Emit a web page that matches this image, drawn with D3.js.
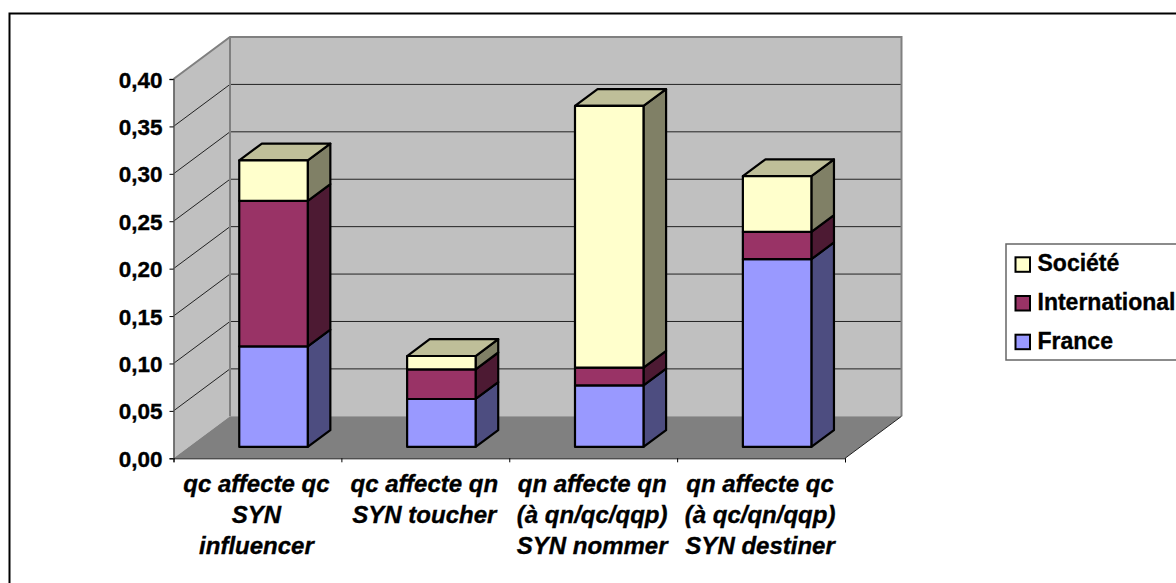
<!DOCTYPE html>
<html>
<head>
<meta charset="utf-8">
<title>affecter</title>
<script src="https://cdn.jsdelivr.net/npm/d3@7"></script>
<style>
    html, body { margin: 0; padding: 0; background: #fff; overflow: hidden; }
    svg { display: block; }
    text { font-family: "Liberation Sans", Arial, sans-serif; font-weight: bold; fill: #000; stroke: #000; stroke-width: 0.35px; }
</style>
</head>
<body>
<div id="chart"></div>
<script>
// values
var categories = ["c1", "c2", "c3", "c4"];
var categoryLines = [
    ["qc affecte qc", "SYN", "influencer"],
    ["qc affecte qn", "SYN toucher"],
    ["qn affecte qn", "(à qn/qc/qqp)", "SYN nommer"],
    ["qn affecte qc", "(à qc/qn/qqp)", "SYN destiner"]
];
var france = [0.106, 0.0506, 0.065, 0.198];
var international = [0.1535, 0.0313, 0.0186, 0.0288];
var societe = [0.0427, 0.014, 0.276, 0.0588];
var yTicks = [0, 0.05, 0.10, 0.15, 0.20, 0.25, 0.30, 0.35, 0.40];
var seriesNames = ["France", "International", "Société"];
var seriesColors = ["#9999ff", "#993366", "#ffffcc"];
var sideColors = ["#4d4d80", "#4d1a33", "#808066"];
var topColor = "#bfbf99";

window.onload = function () {

    var width = 1176,
        height = 583,
        plot = {left: 173.5, right: 845, bottom: 458.3, top: 79},
        depthX = 56.5,
        depthY = 42,
        barFront = 0.27,
        barBack = 0.67;

    var svg = d3.select("#chart")
                .append("svg")
                .attr("width", width)
                .attr("height", height);

    // bars sit a pixel to the right of the plain band position
    var xScale = d3.scaleBand()
                    .domain(categories)
                    .range([plot.left + 0.8, plot.right + 0.8])
                    .paddingInner(0.592)
                    .paddingOuter(0.296);

    var xEdges = d3.scaleLinear()
                    .domain([0, categories.length])
                    .range([plot.left, plot.right]);

    var yScale = d3.scaleLinear()
                    .domain([0, 0.40])
                    .range([plot.bottom, plot.top]);

    // oblique projection: z 0 = front plane, z 1 = back wall
    var project = function (x, v, z) {
        return [x + z * depthX, yScale(v) - z * depthY];
    };

    var poly = function (pts) {
        return pts.map(function (p) { return p.join(","); }).join(" ");
    };

    var comma = d3.formatLocale({decimal: ",", thousands: " ", grouping: [3], currency: ["", ""]}).format(".2f");

    // outer frame, runs off the page on the right and the bottom
    svg.append("rect")
        .attr("x", 9.5)
        .attr("y", 13.5)
        .attr("width", width + 20)
        .attr("height", height + 20)
        .attr("fill", "#fff")
        .attr("stroke", "#000")
        .attr("stroke-width", 2);

    // ---- WALLS AND FLOOR -----

    var yMax = 0.40;

    svg.append("polygon")
        .attr("points", poly([project(plot.left, 0, 0), project(plot.left, yMax, 0), project(plot.left, yMax, 1), project(plot.left, 0, 1)]))
        .attr("fill", "#c0c0c0");

    svg.append("polygon")
        .attr("points", poly([project(plot.left, 0, 1), project(plot.left, yMax, 1), project(plot.right, yMax, 1), project(plot.right, 0, 1)]))
        .attr("fill", "#c0c0c0");

    svg.append("polygon")
        .attr("points", poly([project(plot.left, 0, 0), project(plot.left, 0, 1), project(plot.right, 0, 1), project(plot.right, 0, 0)]))
        .attr("fill", "#808080");

    // grid lines on both walls
    var gridTicks = yTicks.filter(function (v) { return v > 0 && v < yMax; });

    svg.append("g")
        .selectAll("polyline")
        .data(gridTicks)
        .enter()
        .append("polyline")
            .attr("points", function (v) {
                return poly([project(plot.left, v, 0), project(plot.left, v, 1), project(plot.right, v, 1)]);
            })
            .attr("fill", "none")
            .attr("stroke", "#222")
            .attr("stroke-width", 1);

    // grey edges of the walls
    svg.append("polyline")
        .attr("points", poly([project(plot.left, yMax, 0), project(plot.left, yMax, 1), project(plot.right, yMax, 1), project(plot.right, 0, 1)]))
        .attr("fill", "none")
        .attr("stroke", "#808080")
        .attr("stroke-width", 2);

    svg.append("line")
        .attr("x1", project(plot.left, yMax, 1)[0])
        .attr("y1", project(plot.left, yMax, 1)[1])
        .attr("x2", project(plot.left, 0, 1)[0])
        .attr("y2", project(plot.left, 0, 1)[1])
        .attr("stroke", "#808080")
        .attr("stroke-width", 2);

    svg.append("line")
        .attr("x1", project(plot.right, 0, 0)[0])
        .attr("y1", project(plot.right, 0, 0)[1])
        .attr("x2", project(plot.right, 0, 1)[0])
        .attr("y2", project(plot.right, 0, 1)[1])
        .attr("stroke", "#222")
        .attr("stroke-width", 1);

    // ---- STACKED BARS -----

    var stack = [france, international, societe];
    var stackKeys = seriesNames;

    var rows = categories.map(function (c, i) {
        var row = {cat: c};
        stackKeys.forEach(function (k, s) { row[k] = stack[s][i]; });
        return row;
    });

    var layers = d3.stack().keys(stackKeys)(rows);

    layers.forEach(function (layer, s) {
        var g = svg.append("g");
        var isTop = s === layers.length - 1;

        layer.forEach(function (d, i) {
            var x0 = xScale(categories[i]),
                x1 = x0 + xScale.bandwidth();

            // right side
            g.append("polygon")
                .attr("points", poly([project(x1, d[0], barFront), project(x1, d[1], barFront), project(x1, d[1], barBack), project(x1, d[0], barBack)]))
                .attr("fill", sideColors[s])
                .attr("stroke", "#000")
                .attr("stroke-width", 2.2)
                .attr("stroke-linejoin", "round");

            if (isTop) {
                g.append("polygon")
                    .attr("points", poly([project(x0, d[1], barFront), project(x0, d[1], barBack), project(x1, d[1], barBack), project(x1, d[1], barFront)]))
                    .attr("fill", topColor)
                    .attr("stroke", "#000")
                    .attr("stroke-width", 2.2)
                    .attr("stroke-linejoin", "round");
            }

            // front
            g.append("polygon")
                .attr("points", poly([project(x0, d[0], barFront), project(x0, d[1], barFront), project(x1, d[1], barFront), project(x1, d[0], barFront)]))
                .attr("fill", seriesColors[s])
                .attr("stroke", "#000")
                .attr("stroke-width", 2.2)
                .attr("stroke-linejoin", "round");
        });
    });

    // ---- AXES -----

    var yAxis = d3.axisLeft()
                    .scale(yScale)
                    .tickValues(yTicks)
                    .tickSize(4)
                    .tickPadding(7)
                    .tickFormat(comma);

    var yG = svg.append("g")
        .attr("transform", "translate(" + plot.left + ", 0)")
        .call(yAxis);

    yG.select(".domain").attr("stroke", "#555").attr("stroke-width", 1.5);
    yG.selectAll("text")
        .attr("font-family", null)
        .attr("font-size", 22.5)
        .attr("dy", "0.36em");

    var xAxis = d3.axisBottom()
                    .scale(xEdges)
                    .tickValues(d3.range(categories.length + 1))
                    .tickSize(4)
                    .tickFormat("");

    var xG = svg.append("g")
        .attr("transform", "translate(0," + plot.bottom + ")")
        .call(xAxis);

    xG.select(".domain").attr("stroke", "#111").attr("stroke-width", 1);

    // category labels
    var labels = svg.append("g")
        .selectAll("text")
        .data(categoryLines)
        .enter()
        .append("text")
            .attr("text-anchor", "middle")
            .attr("font-size", 24)
            .attr("font-style", "italic");

    labels.selectAll("tspan")
        .data(function (d, i) {
            return d.map(function (t) { return {text: t, i: i}; });
        })
        .enter()
        .append("tspan")
            .attr("x", function (d) { return xEdges(d.i + 0.5) - 1; })
            .attr("y", function (d, j) { return 492 + j * 31; })
            .text(function (d) { return d.text; });

    // ---- LEGEND -----

    var legend = {x: 1006, y: 244, height: 116, swatch: 14.5, first: 257.3, step: 38.7};

    svg.append("rect")
        .attr("x", legend.x)
        .attr("y", legend.y)
        .attr("width", 300)
        .attr("height", legend.height)
        .attr("fill", "#fff")
        .attr("stroke", "#666")
        .attr("stroke-width", 1.5);

    var items = svg.append("g")
        .selectAll("g")
        .data(seriesNames.slice().reverse())
        .enter()
        .append("g")
            .attr("transform", function (d, i) {
                return "translate(" + (legend.x + 9.5) + "," + (legend.first + i * legend.step) + ")";
            });

    items.append("rect")
        .attr("width", legend.swatch)
        .attr("height", legend.swatch)
        .attr("fill", function (d) { return seriesColors[seriesNames.indexOf(d)]; })
        .attr("stroke", "#000")
        .attr("stroke-width", 2);

    items.append("text")
        .attr("x", 22)
        .attr("y", 14)
        .attr("font-size", 23)
        .text(function (d) { return d; });
};
</script>
</body>
</html>
